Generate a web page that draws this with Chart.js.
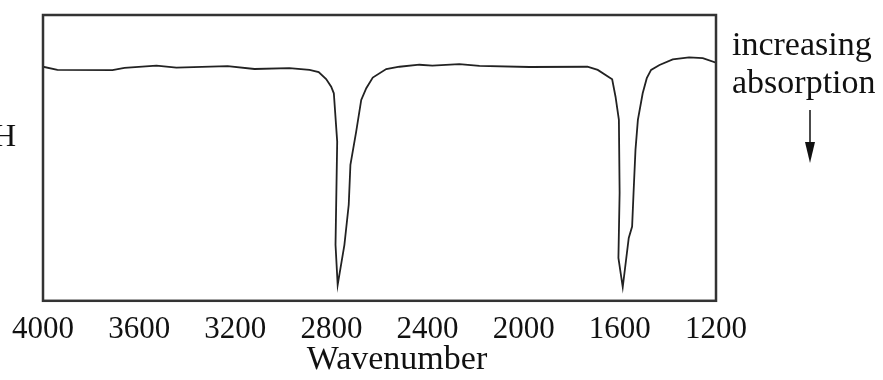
<!DOCTYPE html>
<html>
<head>
<meta charset="utf-8">
<script src="https://cdn.jsdelivr.net/npm/chart.js@4.4.1/dist/chart.umd.min.js"></script>
<style>
  html, body { margin: 0; padding: 0; background: #fff; }
  #wrap { width: 883px; height: 380px; }
</style>
</head>
<body>
<div id="wrap"><canvas id="irChart" width="883" height="380"></canvas></div>
<script>
// IR spectrum (wavenumber in cm-1, transmittance in %)
var wavenumbers = [4000, 3940, 3711, 3661, 3528, 3445, 3232, 3120, 2975, 2891, 2853, 2822, 2801, 2790,
  2776, 2783, 2774, 2746, 2728, 2721, 2697, 2676, 2655, 2628, 2572, 2517, 2434, 2380, 2268, 2184,
  1976, 1735, 1692, 1632, 1618, 1604, 1601, 1606, 1588, 1563, 1549, 1543, 1535, 1525, 1505, 1488,
  1470, 1435, 1380, 1312, 1255, 1200];
var transmittance = [81.9, 80.8, 80.7, 81.5, 82.3, 81.6, 82.1, 81.1, 81.4, 80.8, 80.0, 77.6, 74.9, 72.6,
  55.7, 19.6, 5.6, 19.6, 33.6, 47.6, 59.2, 70.3, 74.4, 78.1, 81.1, 81.9, 82.6, 82.3, 82.8, 82.2,
  81.8, 81.9, 80.8, 77.5, 71.4, 63.3, 37.8, 15.0, 4.8, 22.0, 26.0, 37.8, 52.8, 63.3, 72.6, 77.9,
  80.8, 82.5, 84.5, 85.2, 84.9, 83.3];
var xTicks = [4000, 3600, 3200, 2800, 2400, 2000, 1600, 1200];
var axisTitle = "Wavenumber";
var noteLines = ["increasing", "absorption"];
var cutLabel = "H";

var points = wavenumbers.map(function (w, i) { return { x: w, y: transmittance[i] }; });

var serif = "'Liberation Serif', 'Times New Roman', serif";

// frame + the loose texts and arrow around the plot
var extras = {
  id: 'extras',
  afterDraw: function (chart) {
    var ctx = chart.ctx;
    var a = chart.chartArea;
    ctx.save();
    ctx.strokeStyle = '#333';
    ctx.lineWidth = 2.5;
    ctx.strokeRect(a.left, a.top, a.right - a.left, a.bottom - a.top);

    ctx.fillStyle = '#111';
    ctx.textBaseline = 'alphabetic';
    ctx.font = '34px ' + serif;
    ctx.textAlign = 'center';
    ctx.fillText(axisTitle, 397, 369);

    ctx.font = '34px ' + serif;
    ctx.textAlign = 'left';
    ctx.fillText(noteLines[0], 732, 55);
    ctx.fillText(noteLines[1], 732, 93);

    ctx.font = '32px ' + serif;
    ctx.textAlign = 'right';
    ctx.fillText(cutLabel, 16, 146);

    // arrow
    ctx.strokeStyle = '#111';
    ctx.lineWidth = 1.5;
    ctx.beginPath();
    ctx.moveTo(810, 110);
    ctx.lineTo(810, 150);
    ctx.stroke();
    ctx.beginPath();
    ctx.moveTo(805, 142);
    ctx.lineTo(815, 142);
    ctx.lineTo(810, 163);
    ctx.closePath();
    ctx.fill();
    ctx.restore();
  }
};

var irChart = new Chart(document.getElementById("irChart"), {
  type: 'scatter',
  data: {
    datasets: [{
      label: 'IR',
      data: points,
      showLine: true,
      borderColor: '#222',
      borderWidth: 1.8,
      pointRadius: 0,
      tension: 0,
      fill: false
    }]
  },
  options: {
    responsive: false,
    animation: false,
    layout: { padding: { left: 43, top: 15, right: 167, bottom: 22 } },
    plugins: { legend: { display: false }, tooltip: { enabled: false } },
    scales: {
      x: {
        type: 'linear',
        reverse: true,
        min: 1200,
        max: 4000,
        afterBuildTicks: function (scale) {
          scale.ticks = xTicks.map(function (v) { return { value: v }; });
        },
        grid: { display: false, drawTicks: false },
        border: { display: false },
        ticks: {
          color: '#111',
          padding: 10,
          maxRotation: 0,
          autoSkip: false,
          font: { family: serif, size: 31 },
          callback: function (v) { return String(v); }
        }
      },
      y: {
        display: false,
        min: 0,
        max: 100
      }
    }
  },
  plugins: [extras]
});
</script>
</body>
</html>
